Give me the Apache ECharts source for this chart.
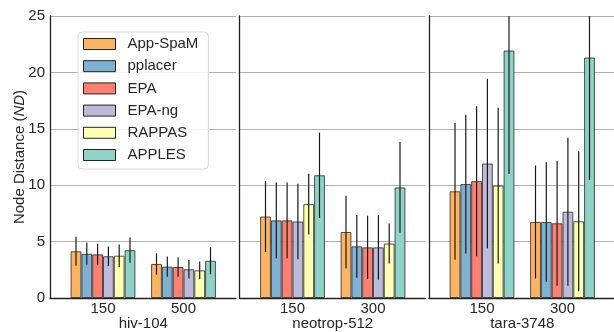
<!DOCTYPE html>
<html>
<head>
<meta charset="utf-8">
<script src="https://cdn.jsdelivr.net/npm/echarts@6/dist/echarts.min.js"></script>
<style>
  html, body { margin: 0; padding: 0; background: #fff; }
  #main { width: 614px; height: 332px; }
</style>
</head>
<body>
<div id="main"></div>
<script>
// data sets and their query-length categories
var panels = ['hiv-104', 'neotrop-512', 'tara-3748'];
var panelCats = [['150', '500'], ['150', '300'], ['150', '300']];
var methods = ['App-SpaM', 'pplacer', 'EPA', 'EPA-ng', 'RAPPAS', 'APPLES'];
var colors = ['#fdb462', '#80b1d3', '#fb8072', '#bebada', '#ffffb3', '#8dd3c7'];

// mean ND per method, order: hiv150, hiv500, neo150, neo300, tara150, tara300
var appSpaM = [4.14, 3.02, 7.22, 5.85, 9.46, 6.74];
var pplacer = [3.92, 2.78, 6.88, 4.58, 10.10, 6.74];
var epa     = [3.87, 2.75, 6.88, 4.49, 10.36, 6.62];
var epaNg   = [3.70, 2.55, 6.78, 4.49, 11.92, 7.65];
var rappas  = [3.75, 2.45, 8.32, 4.83, 9.96, 6.80];
var apples  = [4.24, 3.30, 10.88, 9.80, 21.94, 21.32];

// standard deviations (error bars)
var appSpaMSd = [1.29, 0.95, 3.15, 3.22, 6.06, 5.01];
var pplacerSd = [0.98, 0.89, 3.36, 2.78, 6.15, 5.30];
var epaSd     = [0.93, 0.86, 3.36, 2.80, 6.65, 5.54];
var epaNgSd   = [0.86, 0.82, 3.35, 2.87, 7.52, 6.56];
var rappasSd  = [1.00, 0.79, 2.69, 1.78, 6.90, 6.20];
var applesSd  = [1.12, 1.20, 3.79, 4.02, 10.94, 10.85];

var means = [appSpaM, pplacer, epa, epaNg, rappas, apples];
var sds = [appSpaMSd, pplacerSd, epaSd, epaNgSd, rappasSd, applesSd];

var yMax = 25;
var font = 'Liberation Sans, Arial, sans-serif';
var textColor = '#262626';
var barW = 10.8;

var grid = [], xAxis = [], yAxis = [], series = [];
var panelLeft = [50, 239.5, 429];
var panelW = 186;

panels.forEach(function (name, p) {
    var x0 = panelLeft[p];
    // frame grid (spines + gridlines)
    grid.push({left: x0, top: 16, width: panelW, height: 282, outerBoundsMode: 'none', containLabel: false});
    // bar grid
    grid.push({left: x0 + 12.75, top: 16, width: 161, height: 282, outerBoundsMode: 'none', containLabel: false});

    xAxis.push({
        gridIndex: 2 * p, type: 'value', min: 0, max: 1,
        axisLine: {show: true, lineStyle: {color: '#222', width: 1.3}},
        axisTick: {show: false}, axisLabel: {show: false}, splitLine: {show: false}
    });
    xAxis.push({
        gridIndex: 2 * p + 1, type: 'category', data: panelCats[p],
        axisLine: {show: false}, axisTick: {show: false},
        axisLabel: {fontSize: 15, color: textColor, fontFamily: font, margin: 3},
        name: name, nameLocation: 'middle', nameGap: 18, nameMoveOverlap: false,
        nameTextStyle: {fontSize: 15, color: textColor, fontFamily: font}
    });

    yAxis.push({
        gridIndex: 2 * p, type: 'value', min: 0, max: yMax, interval: 5,
        axisLine: {show: true, lineStyle: {color: '#222', width: 1.3}},
        axisTick: {show: false},
        axisLabel: {show: p === 0, fontSize: 15, color: textColor, fontFamily: font, margin: 5},
        splitLine: {show: true, lineStyle: {color: '#b0b0b0', width: 1}},
        name: p === 0 ? 'Node Distance ({i|ND})' : '',
        nameLocation: 'middle', nameGap: 23, nameMoveOverlap: false,
        nameTextStyle: {
            fontSize: 15, color: textColor, fontFamily: font,
            rich: {i: {fontSize: 15, fontStyle: 'italic', color: textColor, fontFamily: font}}
        }
    });
    yAxis.push({gridIndex: 2 * p + 1, type: 'value', min: 0, max: yMax, show: false});

    methods.forEach(function (m, k) {
        series.push({
            type: 'bar', name: m,
            xAxisIndex: 2 * p + 1, yAxisIndex: 2 * p + 1,
            data: means[k].slice(2 * p, 2 * p + 2),
            barWidth: barW, barGap: '0%',
            itemStyle: {color: colors[k], borderColor: 'rgba(40,40,40,0.8)', borderWidth: 1},
            z: 3
        });
    });

    var errData = [];
    for (var c = 0; c < 2; c++) {
        for (var k = 0; k < methods.length; k++) {
            errData.push([c, k, means[k][2 * p + c], sds[k][2 * p + c]]);
        }
    }
    series.push({
        type: 'custom',
        xAxisIndex: 2 * p + 1, yAxisIndex: 2 * p + 1,
        data: errData,
        encode: {x: 0, y: 2},
        z: 5,
        silent: true,
        renderItem: function (params, api) {
            var c = api.value(0), k = api.value(1), v = api.value(2), s = api.value(3);
            var top = api.coord([c, Math.min(v + s, yMax)]);
            var bot = api.coord([c, Math.max(v - s, 0)]);
            var x = top[0] + (k - 2.5) * barW;
            return {
                type: 'line',
                shape: {x1: x, y1: top[1], x2: x, y2: bot[1]},
                style: {stroke: '#1a1a1a', lineWidth: 1.2}
            };
        }
    });
});

var option = {
    animation: false,
    backgroundColor: '#fff',
    textStyle: {fontFamily: font},
    grid: grid,
    xAxis: xAxis,
    yAxis: yAxis,
    legend: {
        data: methods,
        orient: 'vertical',
        left: 78, top: 32,
        padding: [4.5, 10, 6.5, 5],
        itemWidth: 32, itemHeight: 11, itemGap: 7.2,
        icon: 'rect',
        itemStyle: {borderColor: '#222', borderWidth: 1},
        textStyle: {fontSize: 15, color: textColor, fontFamily: font, lineHeight: 15, padding: [0, 0, 0, 7]},
        backgroundColor: 'rgba(255,255,255,0.85)',
        borderColor: '#d9d9d9', borderWidth: 1, borderRadius: 4
    },
    series: series
};

var chart = echarts.init(document.getElementById('main'));
chart.setOption(option);
</script>
</body>
</html>
